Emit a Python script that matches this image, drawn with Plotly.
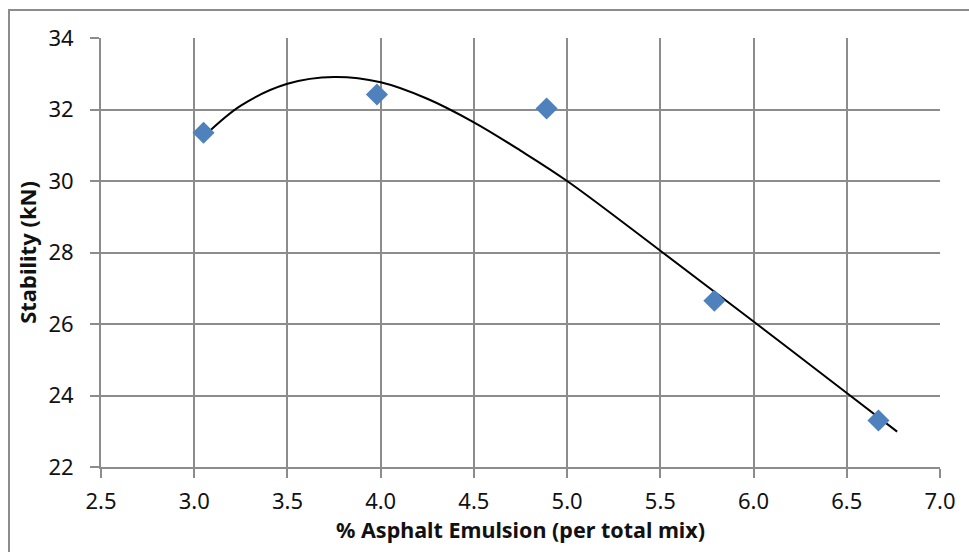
import plotly.graph_objects as go

# Data
asphalt_pct = [3.05, 3.98, 4.89, 5.79, 6.67]
stability_kn = [31.35, 32.42, 32.03, 26.65, 23.3]

# Trendline
trend_x = [3.06, 3.25, 3.5, 3.75, 4.0, 4.25, 4.5, 4.75, 5.0, 5.5, 6.0, 6.5, 6.77]
trend_y = [31.29, 32.11, 32.72, 32.91, 32.76, 32.30, 31.64, 30.85, 30.0, 28.05, 26.07, 24.07, 22.99]

x_ticks = [2.5, 3.0, 3.5, 4.0, 4.5, 5.0, 5.5, 6.0, 6.5, 7.0]
x_tick_labels = ["2.5", "3.0", "3.5", "4.0", "4.5", "5.0", "5.5", "6.0", "6.5", "7.0"]
y_ticks = [22, 24, 26, 28, 30, 32, 34]

GRID = "#8c8c8c"
FONT = "Noto Sans"
TXT = "#111111"

fig = go.Figure()
fig.add_trace(go.Scatter(x=trend_x, y=trend_y, mode="lines",
                         line=dict(color="black", width=2, shape="spline", smoothing=1.0),
                         hoverinfo="skip", showlegend=False))
fig.add_trace(go.Scatter(x=asphalt_pct, y=stability_kn, mode="markers",
                         marker=dict(symbol="diamond", size=17, color="#4F81BD"),
                         showlegend=False))

fig.update_layout(
    width=969, height=552,
    margin=dict(l=101, r=29, t=38, b=85),
    paper_bgcolor="white", plot_bgcolor="white",
    font=dict(family=FONT, size=22, color=TXT),
    xaxis=dict(range=[2.5, 7.0], tickvals=x_ticks, ticktext=x_tick_labels,
               showgrid=True, gridcolor=GRID, gridwidth=2,
               showline=True, linecolor=GRID, linewidth=2, mirror=False,
               ticks="outside", ticklen=9, tickwidth=2, tickcolor=GRID,
               zeroline=False, ticklabelstandoff=5,
               title=dict(text="<b>% Asphalt Emulsion (per total mix)</b>",
                          font=dict(size=21.5, family=FONT, color=TXT), standoff=6)),
    yaxis=dict(range=[22, 34], tickvals=y_ticks,
               showgrid=True, gridcolor=GRID, gridwidth=2,
               showline=True, linecolor=GRID, linewidth=2,
               ticks="outside", ticklen=9, tickwidth=2, tickcolor=GRID,
               zeroline=False, ticklabelstandoff=12,
               title=dict(text="<b>Stability (kN)</b>",
                          font=dict(size=22, family=FONT, color=TXT), standoff=6)),
    shapes=[
        dict(type="rect", xref="paper", yref="paper",
             x0=(9 - 101) / 839, x1=1.2, y0=-0.3, y1=(467 - 10) / 429,
             line=dict(color="#8c8c8c", width=2), fillcolor="rgba(0,0,0,0)", layer="below"),
    ],
)

fig.write_html("out.html")
